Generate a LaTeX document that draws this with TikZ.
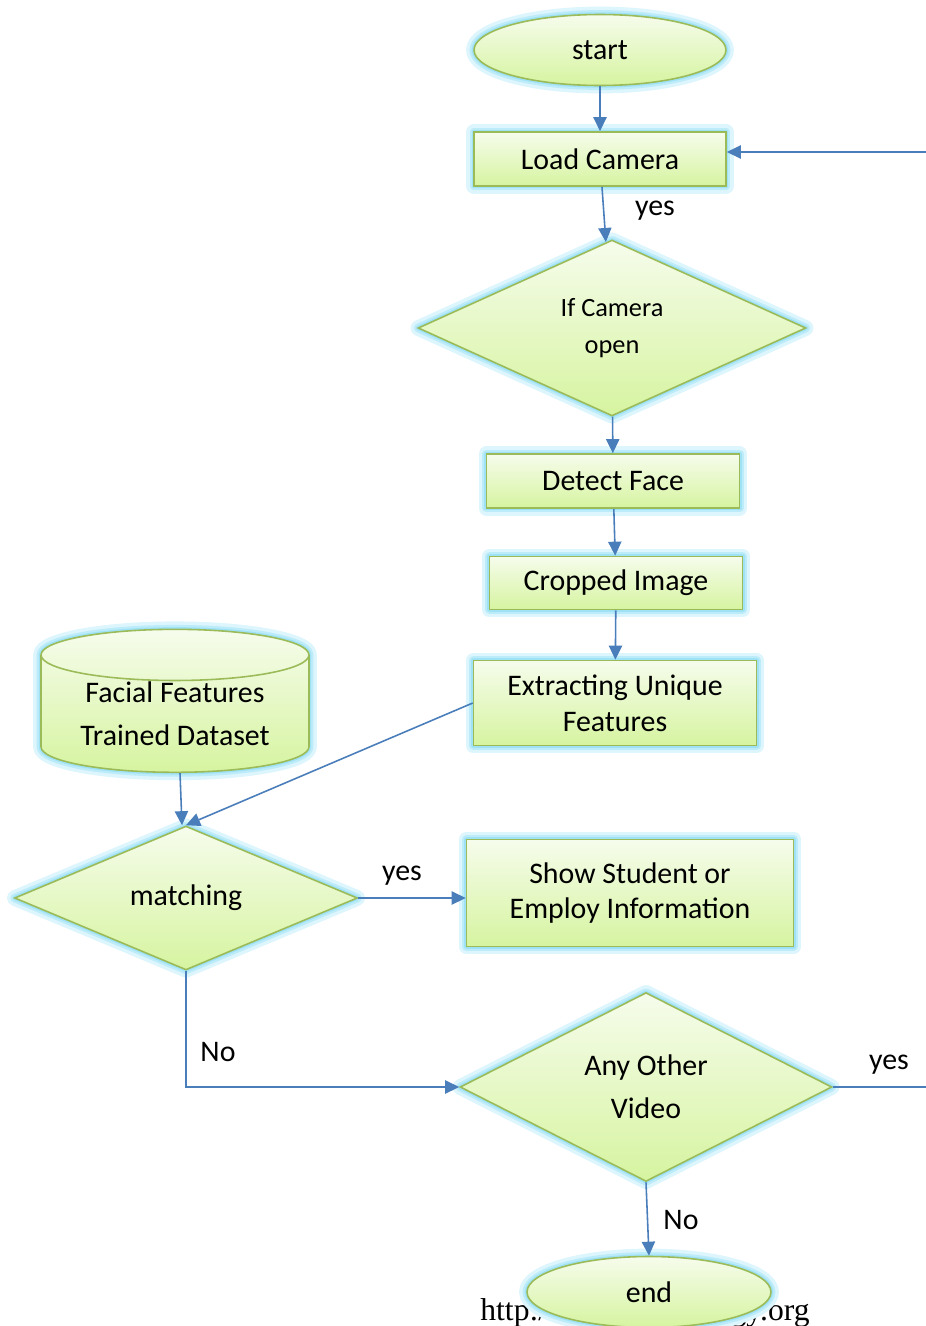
\documentclass[tikz,border=0pt]{standalone}
\usepackage{fontspec}
\setmainfont{Carlito}
\newfontfamily\urlfont{Liberation Serif}
\usepackage{tikz}
\usetikzlibrary{shapes.geometric,arrows.meta}

\definecolor{fillTop}{HTML}{F6FCEC}
\definecolor{fillBot}{HTML}{D6F4A0}
\definecolor{edgeGreen}{HTML}{9BBB59}
\definecolor{glowBlue}{HTML}{9FE2F6}
\definecolor{arrowBlue}{HTML}{4A7EBB}

\tikzset{
  glow/.style={preaction={draw=glowBlue!35,line width=9pt,line join=round},
               preaction={draw=glowBlue!70,line width=5pt,line join=round},
               preaction={draw=glowBlue,line width=2.5pt,line join=round}},
  shadebox/.style={glow,top color=fillTop,bottom color=fillBot,draw=edgeGreen,
                   line width=0.9pt,align=center,inner sep=0pt,
                   font=\fontsize{17}{20.4}\selectfont},
  terminal/.style={shadebox,ellipse},
  procbox/.style={shadebox,rectangle},
  decision/.style={shadebox,diamond,aspect=2.2},
  datastore/.style={shadebox,cylinder,shape border rotate=90,aspect=0.27},
  arr/.style={draw=arrowBlue,line width=0.9pt,-{Triangle[length=8pt,width=7.5pt]}},
  line/.style={draw=arrowBlue,line width=0.9pt},
  lbl/.style={font=\fontsize{17}{20.4}\selectfont,inner sep=0pt},
  urltext/.style={font=\urlfont\fontsize{18}{21}\selectfont,inner sep=0pt}
}

\begin{document}
\begin{tikzpicture}[x=0.02cm,y=-0.02cm]
\useasboundingbox (0,0) rectangle (926,1326);

% footer text, half hidden by the end node
\node[urltext,anchor=base west] (urlA) at (480,1320) {http:/};
\node[urltext,anchor=base east] (urlB) at (810,1320) {gy.org};

\node[terminal,minimum width=5.04cm,minimum height=1.42cm] (start) at (600,50) {start};
\node[procbox,minimum width=5.04cm,minimum height=1.08cm] (load) at (600,159) {Load Camera};
\node[decision,minimum width=7.76cm,minimum height=3.52cm,font=\fontsize{15}{19}\selectfont] (camopen) at (612,328) {If Camera\\[2pt]open};
\node[procbox,minimum width=5.06cm,minimum height=1.08cm] (detect) at (613,481) {Detect Face};
\node[procbox,minimum width=5.06cm,minimum height=1.06cm] (crop) at (616,583) {Cropped Image};
\node[procbox,minimum width=5.66cm,minimum height=1.7cm] (extract) at (615,703) {Extracting Unique\\Features};
\node[datastore,minimum width=5.36cm,minimum height=2.86cm] (dataset) at (175,714) {Facial Features\\[4pt]Trained Dataset};
\node[decision,minimum width=6.86cm,minimum height=2.88cm] (match) at (186,898) {matching};
\node[procbox,minimum width=6.54cm,minimum height=2.14cm] (show) at (630,893) {Show Student or\\Employ Information};
\node[decision,minimum width=7.44cm,minimum height=3.78cm] (video) at (646,1087) {Any Other\\[4pt]Video};
\node[terminal,minimum width=4.88cm,minimum height=1.42cm] (end) at (649,1292) {end};

\coordinate (loopIn) at (926,152);
\coordinate (loopOut) at (926,1087);

% connectors
\draw[arr] (start) -- (load);
\draw[arr] (load) -- (camopen);
\draw[arr] (camopen) -- (detect);
\draw[arr] (detect) -- (crop);
\draw[arr] (crop) -- (extract);
\draw[arr] ([xshift=0.1cm]dataset.south) -- ([xshift=-0.08cm]match.north);
\draw[arr] (extract.west) -- (match.north);
\draw[arr] (match.east) -- (match.east -| show.west);
\draw[arr] (match.south) |- (video.west);
\draw[arr] (video.south) -- (end.north);
\draw[line] (video.east) -- (loopOut);
\draw[arr] (loopIn) -- (loopIn -| load.east);

% labels
\node[lbl] (yesCam) at (655,211) {yes};
\node[lbl] (yesMatch) at (402,876) {yes};
\node[lbl] (noMatch) at (218,1052) {No};
\node[lbl] (yesVideo) at (889,1065) {yes};
\node[lbl] (noVideo) at (681,1220) {No};
\end{tikzpicture}
\end{document}
